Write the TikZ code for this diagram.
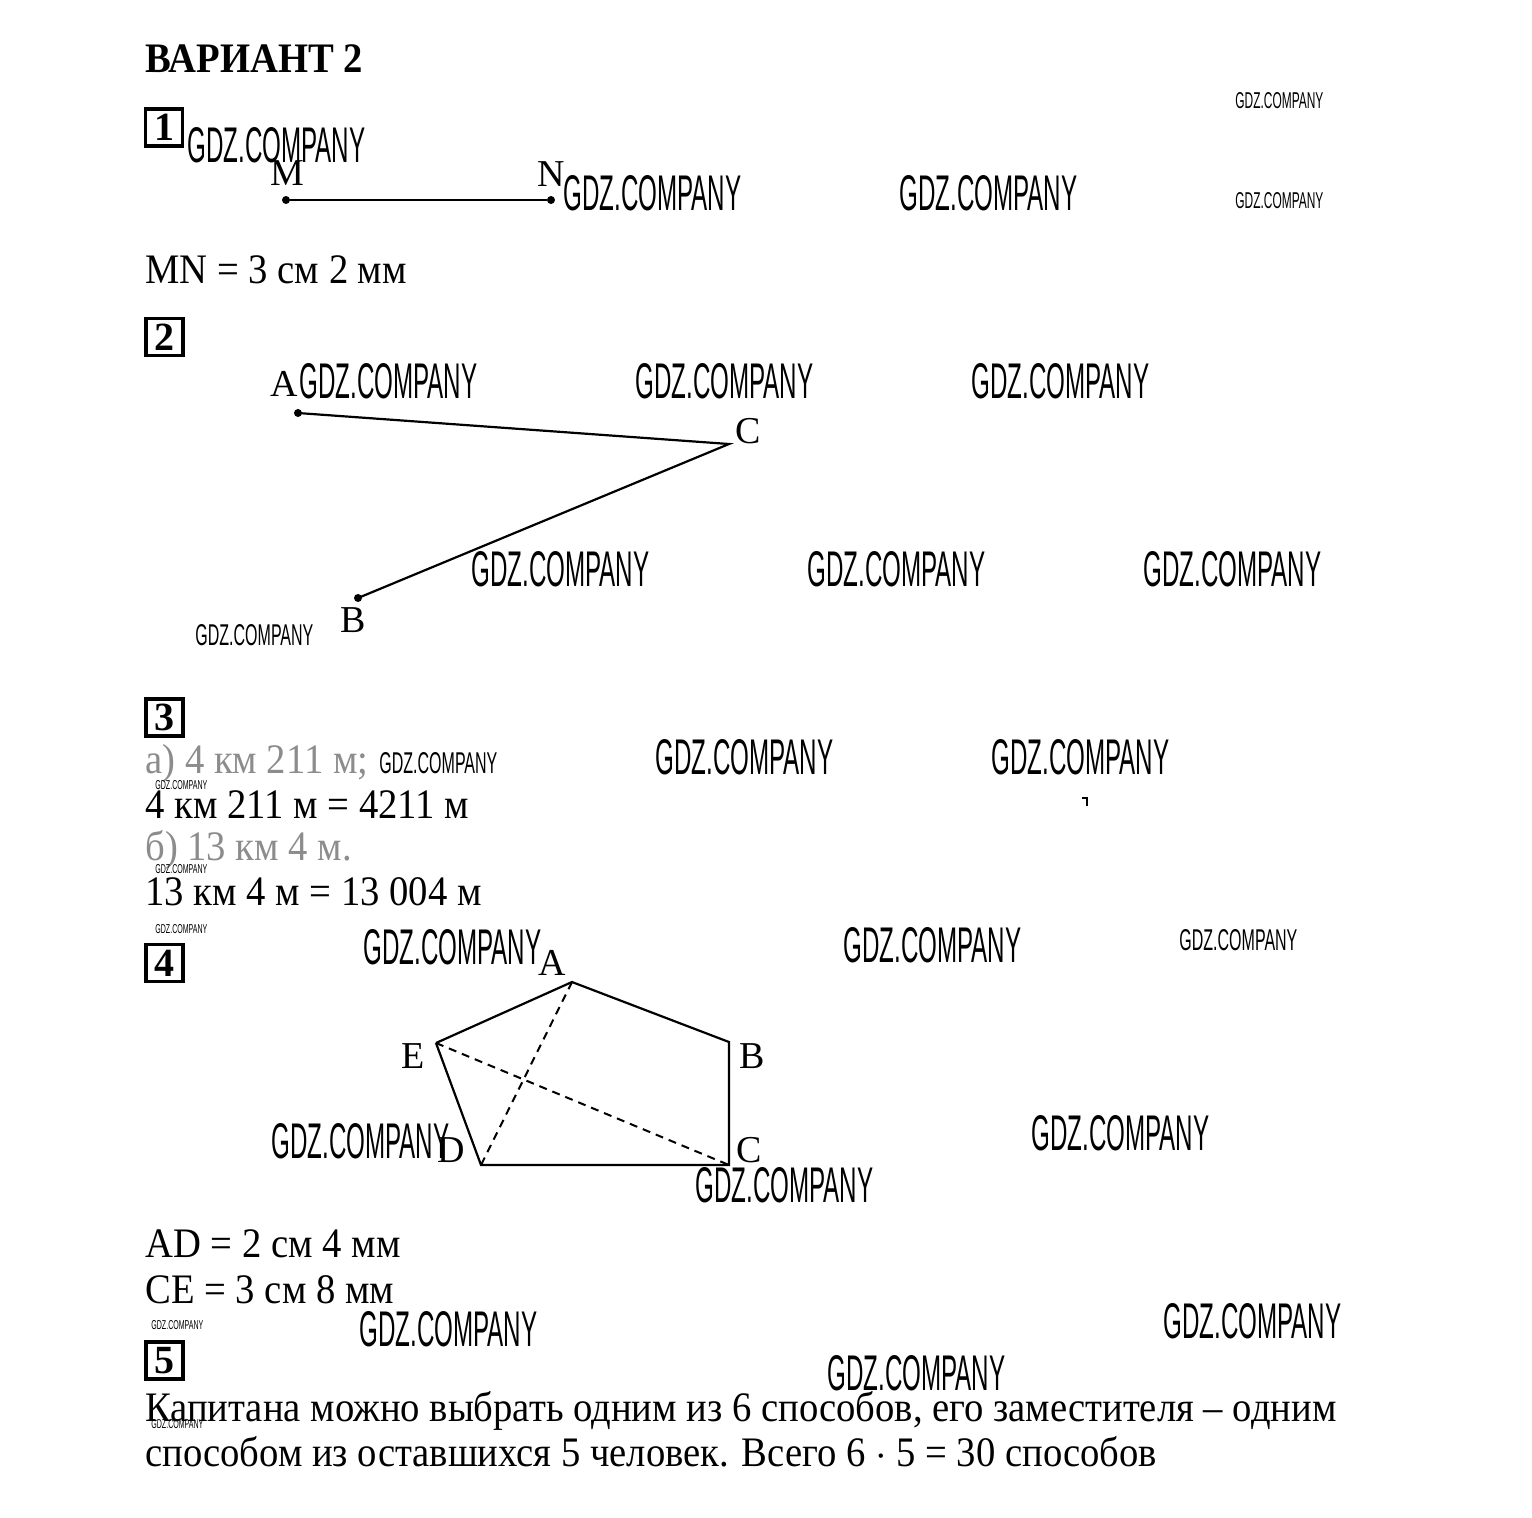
\documentclass[tikz,border=0pt]{standalone}
\usepackage{fontspec}
\usepackage{graphicx}
\setmainfont{Liberation Serif}[FakeStretch=0.92]
\newfontfamily\lblfont{Liberation Serif}
\newfontfamily\wmfont{Liberation Sans}
\newcommand\wmk[2]{\resizebox{#1}{#2}{\wmfont GDZ.COMPANY}}
\tikzset{
  txt/.style={anchor=base west, inner sep=0pt, font=\fontsize{21}{25}\selectfont},
  gtxt/.style={txt, text=black!45},
  lbl/.style={anchor=base west, inner sep=0pt, font=\lblfont\fontsize{19}{22}\selectfont},
  numbox/.style={draw, line width=1.8pt, minimum size=18.5pt, inner sep=0pt, font=\lblfont\bfseries\fontsize{20}{20}\selectfont},
  wm/.style={anchor=base west, inner sep=0pt},
  seg/.style={line width=1.1pt},
  dsh/.style={line width=1pt, dash pattern=on 4pt off 3pt},
  pt/.style={fill, circle, inner sep=0pt, minimum size=4pt}
}
\begin{document}
\begin{tikzpicture}[x=0.5pt, y=-0.5pt]
\useasboundingbox (0,0) rectangle (1532,1517);
% title
\node[txt, font=\bfseries\fontsize{21}{25}\selectfont] (title) at (145,72) {ВАРИАНТ 2};
% number boxes
\node[numbox] (b1) at (164,127.5) {1};
\node[numbox] (b2) at (164.5,337) {2};
\node[numbox] (b3) at (164.5,717.5) {3};
\node[numbox] (b4) at (164.5,963) {4};
\node[numbox] (b5) at (164.5,1360.5) {5};
% --- task 1
\node[pt] (M) at (286,200) {};
\node[pt] (N) at (551,200) {};
\draw[seg] (M) -- (N);
\node[lbl] (lM) at (270,185) {M};
\node[lbl] (lN) at (537,186) {N};
\node[txt] (t1) at (145,283) {MN = 3 см 2 мм};
% --- task 2
\node[pt] (A2) at (298,413) {};
\coordinate (C2) at (729,444);
\node[pt] (B2) at (358,598) {};
\draw[seg] (A2.center) -- (C2) -- (B2.center);
\node[lbl] (lA2) at (270,396) {A};
\node[lbl] (lC2) at (735,443) {C};
\node[lbl] (lB2) at (340,632) {B};
% --- task 3
\node[gtxt] (t3a) at (145,773) {а) 4 км 211 м;};
\node[txt] (t3b) at (145,818) {4 км 211 м = 4211 м};
\node[gtxt] (t3c) at (145,860) {б) 13 км 4 м.};
\node[txt] (t3d) at (145,905) {13 км 4 м = 13 004 м};
\draw[line width=0.8pt] (1082,798) -- (1087,798) -- (1087,806);
% --- task 4
\coordinate (A) at (572,982);
\coordinate (B) at (729,1042);
\coordinate (C) at (729,1165);
\coordinate (D) at (481,1165);
\coordinate (E) at (436,1043);
\draw[seg] (E) -- (A) -- (B) -- (C) -- (D) -- (E);
\draw[dsh] (A) -- (D);
\draw[dsh] (E) -- (C);
\node[lbl] (lA) at (538,975) {A};
\node[lbl] (lE) at (401,1068) {E};
\node[lbl] (lB) at (739,1068) {B};
\node[lbl] (lD) at (437,1162) {D};
\node[lbl] (lC) at (736,1162) {C};
\node[txt] (t4a) at (145,1257) {AD = 2 см 4 мм};
\node[txt] (t4b) at (145,1303) {CE = 3 см 8 мм};
% --- task 5
\node[txt] (t5a) at (145,1421) {Капитана можно выбрать одним из 6 способов, его заместителя – одним};
\node[txt] (t5b) at (145,1466) {способом из оставшихся 5 человек. Всего 6 $\cdot$ 5 = 30 способов};
% --- watermarks
\node[wm] (w1) at (187,162) {\wmk{89pt}{17.5pt}};
\node[wm] (w2) at (563,210) {\wmk{89pt}{17.5pt}};
\node[wm] (w3) at (899,210) {\wmk{89pt}{17.5pt}};
\node[wm] (w4) at (1235,108) {\wmk{44pt}{8pt}};
\node[wm] (w5) at (1235,208) {\wmk{44pt}{8pt}};
\node[wm] (w6) at (299,398) {\wmk{89pt}{17.5pt}};
\node[wm] (w7) at (635,398) {\wmk{89pt}{17.5pt}};
\node[wm] (w8) at (971,398) {\wmk{89pt}{17.5pt}};
\node[wm] (w9) at (471,586) {\wmk{89pt}{17.5pt}};
\node[wm] (w10) at (807,586) {\wmk{89pt}{17.5pt}};
\node[wm] (w11) at (1143,586) {\wmk{89pt}{17.5pt}};
\node[wm] (w12) at (195,645) {\wmk{59pt}{10.5pt}};
\node[wm] (w13) at (379,773) {\wmk{59pt}{10.5pt}};
\node[wm] (w14) at (155,789) {\wmk{26pt}{4.5pt}};
\node[wm] (w15) at (655,774) {\wmk{89pt}{17.5pt}};
\node[wm] (w16) at (991,774) {\wmk{89pt}{17.5pt}};
\node[wm] (w17) at (155,873) {\wmk{26pt}{4.5pt}};
\node[wm] (w18) at (155,933) {\wmk{26pt}{4.5pt}};
\node[wm] (w19) at (363,964) {\wmk{89pt}{17.5pt}};
\node[wm] (w20) at (843,962) {\wmk{89pt}{17.5pt}};
\node[wm] (w21) at (1179,950) {\wmk{59pt}{10.5pt}};
\node[wm] (w22) at (271,1158) {\wmk{89pt}{17.5pt}};
\node[wm] (w23) at (1031,1150) {\wmk{89pt}{17.5pt}};
\node[wm] (w24) at (695,1202) {\wmk{89pt}{17.5pt}};
\node[wm] (w25) at (151,1329) {\wmk{26pt}{4.5pt}};
\node[wm] (w26) at (359,1346) {\wmk{89pt}{17.5pt}};
\node[wm] (w27) at (1163,1338) {\wmk{89pt}{17.5pt}};
\node[wm] (w28) at (827,1390) {\wmk{89pt}{17.5pt}};
\node[wm] (w29) at (151,1428) {\wmk{26pt}{4.5pt}};
\end{tikzpicture}
\end{document}
